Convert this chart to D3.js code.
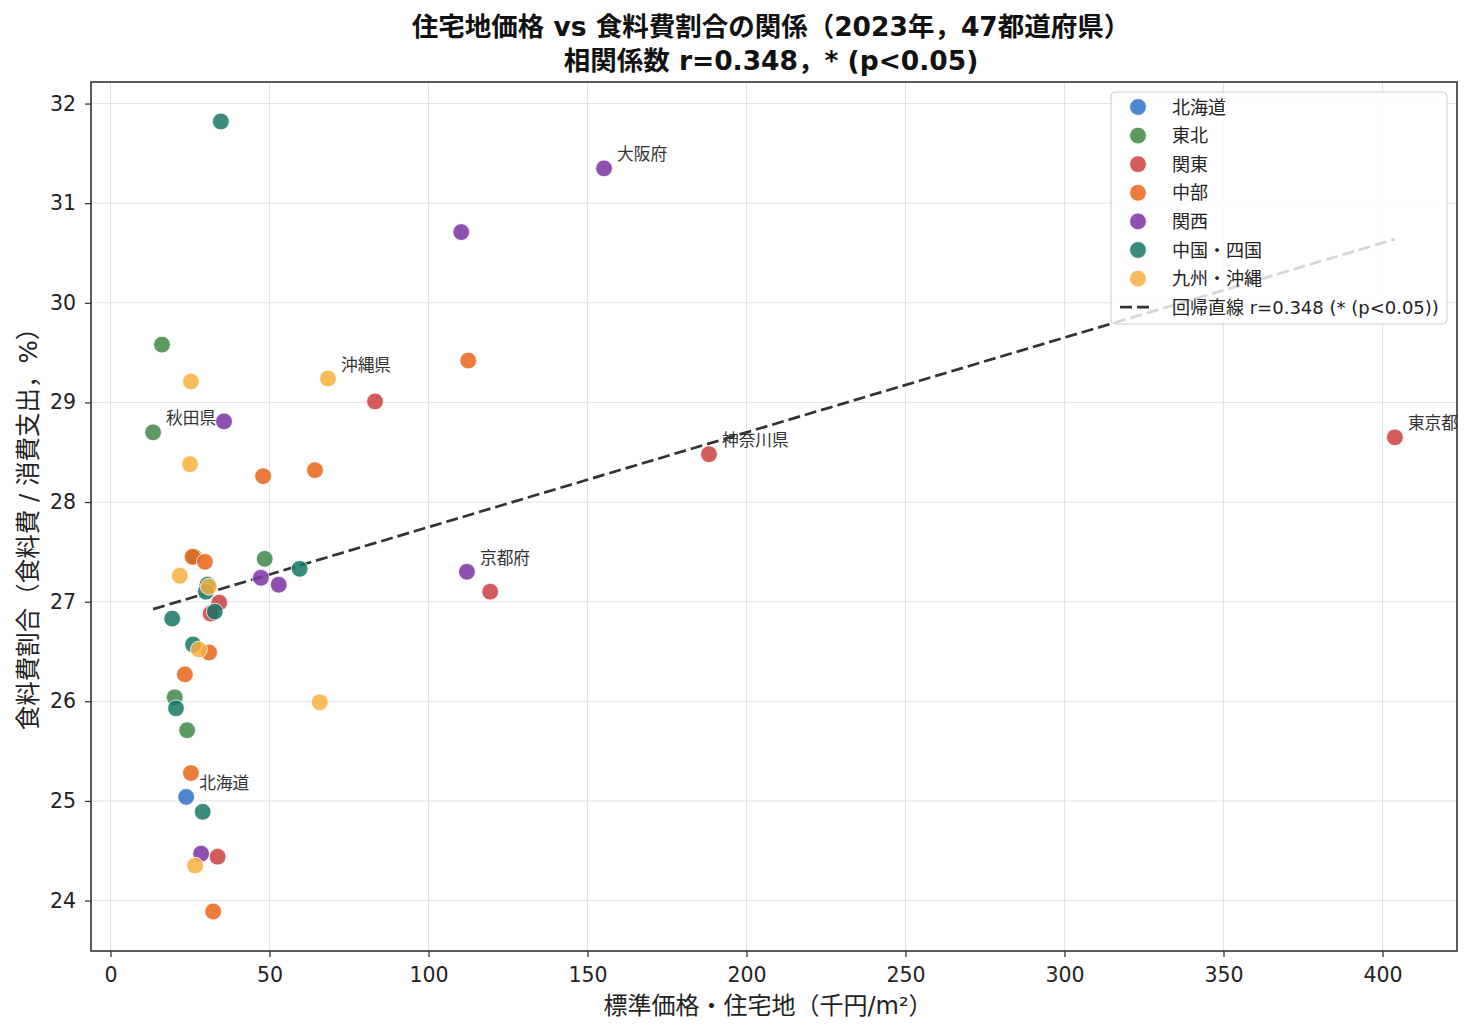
<!DOCTYPE html>
<html>
<head>
<meta charset="utf-8">
<script src="https://cdn.jsdelivr.net/npm/d3@7"></script>
<style>
  body { margin: 0; background: #fff; }
  svg { display: block; font-family: "DejaVu Sans", "Noto Sans CJK JP", sans-serif; }
  .grid line { stroke: #e4e4e4; stroke-width: 1; }
  .axis line { stroke: #262626; stroke-width: 1.2; }
  .axis text { fill: #222; font-size: 20.5px; font-family: "DejaVu Sans", sans-serif; }
</style>
</head>
<body>
<svg id="chart" width="1475" height="1035"></svg>
<script>
// regions in drawing / legend order
const regions = ['北海道', '東北', '関東', '中部', '関西', '中国・四国', '九州・沖縄']
const regionColors = ['#2f72c6', '#3f8845', '#cc3e3e', '#ea651a', '#7b31a3', '#187667', '#f8b03f']

// one entry per prefecture: region index, land price (千円/m²), food share (%)
const pointRegion = [
  0,
  1, 1, 1, 1, 1, 1,
  2, 2, 2, 2, 2, 2, 2,
  3, 3, 3, 3, 3, 3, 3, 3, 3,
  4, 4, 4, 4, 4, 4, 4,
  5, 5, 5, 5, 5, 5, 5, 5, 5,
  6, 6, 6, 6, 6, 6, 6, 6,
]
const landPrice = [
  23.8,
  16.2, 13.4, 48.5, 26.3, 20.2, 24.1,
  403.9, 188.2, 83.2, 119.4, 34.2, 31.5, 33.7,
  112.5, 48.0, 64.3, 25.8, 29.7, 31.0, 23.4, 25.3, 32.3,
  155.2, 110.3, 35.7, 112.1, 47.3, 52.9, 28.5,
  34.7, 59.5, 30.5, 30.0, 32.8, 19.4, 26.0, 20.6, 29.0,
  25.3, 68.4, 25.0, 21.8, 30.9, 27.8, 65.8, 26.6,
]
const foodShare = [
  25.04,
  29.58, 28.70, 27.43, 27.45, 26.04, 25.71,
  28.65, 28.48, 29.01, 27.10, 26.99, 26.88, 24.44,
  29.42, 28.26, 28.32, 27.45, 27.40, 26.49, 26.27, 25.28, 23.89,
  31.35, 30.71, 28.81, 27.30, 27.24, 27.17, 24.47,
  31.82, 27.33, 27.17, 27.10, 26.90, 26.83, 26.57, 25.93, 24.89,
  29.21, 29.24, 28.38, 27.26, 27.15, 26.52, 25.99, 24.35,
]
// labelled prefectures (index into the arrays above)
const labelIndex = [0, 2, 7, 8, 23, 26, 40]
const labelNames = ['北海道', '秋田県', '東京都', '神奈川県', '大阪府', '京都府', '沖縄県']

const xTicks = [0, 50, 100, 150, 200, 250, 300, 350, 400]
const yTicks = [24, 25, 26, 27, 28, 29, 30, 31, 32]

const titleLines = ['住宅地価格 vs 食料費割合の関係（2023年，47都道府県）', '相関係数 r=0.348，* (p<0.05)']
const xLabel = '標準価格・住宅地（千円/m²）'
const yLabel = '食料費割合（食料費 / 消費支出，%）'
const fitLabel = '回帰直線 r=0.348 (* (p<0.05))'

const points = landPrice.map((x, i) => ({ x, y: foodShare[i], r: pointRegion[i] }))

const svg = d3.select('#chart')
const box = { left: 91, right: 1457, top: 82, bottom: 951 }

// matplotlib-like 5% margins
const pad = ([a, b]) => [a - (b - a) * 0.05, b + (b - a) * 0.05]
const x = d3.scaleLinear().domain(pad(d3.extent(landPrice))).range([box.left, box.right])
const y = d3.scaleLinear().domain(pad(d3.extent(foodShare))).range([box.bottom, box.top])

// grid
const grid = svg.append('g').attr('class', 'grid')
grid.selectAll('.gx').data(xTicks).join('line')
  .attr('x1', d => x(d)).attr('x2', d => x(d))
  .attr('y1', box.top).attr('y2', box.bottom)
grid.selectAll('.gy').data(yTicks).join('line')
  .attr('class', 'gy')
  .attr('x1', box.left).attr('x2', box.right)
  .attr('y1', d => y(d)).attr('y2', d => y(d))

// least squares fit
const mx = d3.mean(landPrice)
const my = d3.mean(foodShare)
const sxy = d3.sum(points, p => (p.x - mx) * (p.y - my))
const sxx = d3.sum(points, p => (p.x - mx) ** 2)
const slope = sxy / sxx
const icpt = my - slope * mx
const [fx0, fx1] = d3.extent(landPrice)

svg.append('line')
  .attr('x1', x(fx0)).attr('y1', y(icpt + slope * fx0))
  .attr('x2', x(fx1)).attr('y2', y(icpt + slope * fx1))
  .attr('stroke', '#333').attr('stroke-width', 2.7)
  .attr('stroke-dasharray', '12,5')

// points, drawn region by region
svg.append('g').selectAll('circle')
  .data(points.slice().sort((a, b) => a.r - b.r))
  .join('circle')
  .attr('cx', d => x(d.x)).attr('cy', d => y(d.y))
  .attr('r', 8.4)
  .attr('fill', d => regionColors[d.r])
  .attr('fill-opacity', 0.85)
  .attr('stroke', '#fff').attr('stroke-width', 0.8)

// annotations
svg.append('g').selectAll('text')
  .data(labelIndex)
  .join('text')
  .attr('x', i => x(landPrice[i]) + 13)
  .attr('y', i => y(foodShare[i]) - 8)
  .attr('font-size', 16.7)
  .attr('fill', '#333')
  .text((i, k) => labelNames[k])

// axes
svg.append('g').attr('class', 'axis')
  .attr('transform', `translate(0,${box.bottom})`)
  .call(d3.axisBottom(x).tickValues(xTicks).tickSize(6).tickPadding(10).tickSizeOuter(0))
svg.append('g').attr('class', 'axis')
  .attr('transform', `translate(${box.left},0)`)
  .call(d3.axisLeft(y).tickValues(yTicks).tickSize(6).tickPadding(9).tickSizeOuter(0))
svg.selectAll('.axis .domain').remove()
svg.append('rect')
  .attr('x', box.left).attr('y', box.top)
  .attr('width', box.right - box.left).attr('height', box.bottom - box.top)
  .attr('fill', 'none').attr('stroke', '#262626').attr('stroke-width', 1.5)

// labels
svg.append('text')
  .attr('x', (box.left + box.right) / 2 - 6).attr('y', 1014)
  .attr('text-anchor', 'middle').attr('font-size', 24).attr('fill', '#222')
  .text(xLabel)
svg.append('text')
  .attr('transform', 'translate(37,523) rotate(-90)')
  .attr('text-anchor', 'middle').attr('font-size', 24.5).attr('fill', '#222')
  .text(yLabel)

svg.append('g').selectAll('text')
  .data(titleLines)
  .join('text')
  .attr('x', (box.left + box.right) / 2 - 3)
  .attr('y', (d, i) => 36 + i * 34)
  .attr('text-anchor', 'middle')
  .attr('font-size', 26.5).attr('font-weight', 'bold').attr('fill', '#111')
  .text(d => d)

// legend
const lg = svg.append('g').attr('transform', 'translate(1111,92)')
lg.append('rect')
  .attr('width', 336).attr('height', 232).attr('rx', 4)
  .attr('fill', '#fff').attr('fill-opacity', 0.8)
  .attr('stroke', '#ccc').attr('stroke-width', 1)
const rows = lg.selectAll('.row')
  .data(regions.concat([fitLabel]))
  .join('g')
  .attr('transform', (d, i) => `translate(0,${15 + i * 28.6})`)
rows.filter((d, i) => i < regions.length)
  .append('circle')
  .attr('cx', 27).attr('r', 8.4)
  .attr('fill', (d, i) => regionColors[i]).attr('fill-opacity', 0.85)
  .attr('stroke', '#fff').attr('stroke-width', 0.8)
rows.filter((d, i) => i === regions.length)
  .append('line')
  .attr('x1', 9).attr('x2', 43)
  .attr('stroke', '#333').attr('stroke-width', 2.7).attr('stroke-dasharray', '12,5')
rows.append('text')
  .attr('x', 61).attr('y', 6.5)
  .attr('font-size', 18).attr('fill', '#222')
  .text(d => d)
</script>
</body>
</html>
